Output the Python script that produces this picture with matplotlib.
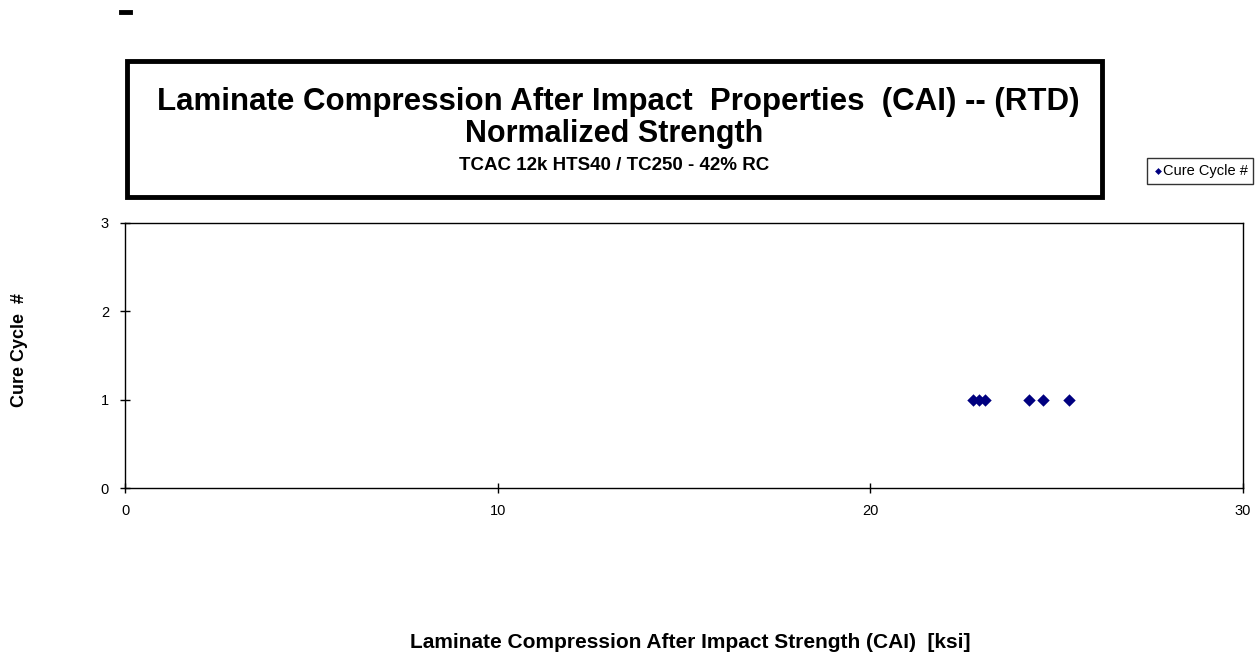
import matplotlib.pyplot as plt
from matplotlib.patches import Rectangle
from matplotlib.lines import Line2D

plt.rcParams['font.family'] = ['Liberation Sans', 'DejaVu Sans']

cai_strength = [22.75, 22.91, 23.07, 24.26, 24.63, 25.33]
cure_cycle = [1, 1, 1, 1, 1, 1]
x_ticks = [0, 10, 20, 30]
y_ticks = [0, 1, 2, 3]

W, H = 1257, 663
fig = plt.figure(figsize=(W / 100, H / 100), dpi=100)
ax = fig.add_axes([125 / W, 1 - 488 / H, (1243 - 125) / W, (488 - 223) / H])

ax.scatter(cai_strength, cure_cycle, marker='D', s=40, color='#000080',
           linewidths=0, zorder=3, label='Cure Cycle #')
ax.set_xlim(0, 30)
ax.set_ylim(0, 3)
ax.set_xticks(x_ticks)
ax.set_yticks(y_ticks)
ax.tick_params(direction='inout', length=7, width=1, labelsize=10.5, pad=8)
for s in ax.spines.values():
    s.set_linewidth(1)

# axis labels
fig.text(690 / W, 1 - 642 / H, 'Laminate Compression After Impact Strength (CAI)  [ksi]',
         ha='center', va='center', fontsize=15, fontweight='bold')
fig.text(20 / W, 1 - 350 / H, 'Cure Cycle  #', rotation=90,
         ha='center', va='center', fontsize=13, fontweight='bold')

# title box
fig.patches.append(Rectangle((127 / W, 1 - 197 / H), (1102 - 127) / W, (197 - 61) / H,
                             transform=fig.transFigure, fill=False,
                             edgecolor='black', linewidth=3.5))
fig.text(618 / W, 1 - 102 / H, 'Laminate Compression After Impact  Properties  (CAI) -- (RTD)',
         ha='center', va='center', fontsize=22.5, fontweight='bold')
fig.text(614 / W, 1 - 134 / H, 'Normalized Strength',
         ha='center', va='center', fontsize=22, fontweight='bold')
fig.text(614 / W, 1 - 166 / H, 'TCAC 12k HTS40 / TC250 - 42% RC',
         ha='center', va='center', fontsize=13.5, fontweight='bold')

# legend box
leg = fig.legend(loc='center', bbox_to_anchor=(1200 / W, 1 - 171 / H),
                 frameon=True, fancybox=False, fontsize=10.5, handletextpad=0.0,
                 handlelength=0.7, borderpad=0.4, borderaxespad=0,
                 markerscale=0.55)
leg.get_frame().set_edgecolor('black')
leg.get_frame().set_linewidth(1)

# small dash at top-left
fig.lines.append(Line2D([121 / W, 130 / W], [1 - 12 / H, 1 - 12 / H],
                        transform=fig.transFigure, color='black', linewidth=3.5))

fig.savefig('out.png', dpi=100)
